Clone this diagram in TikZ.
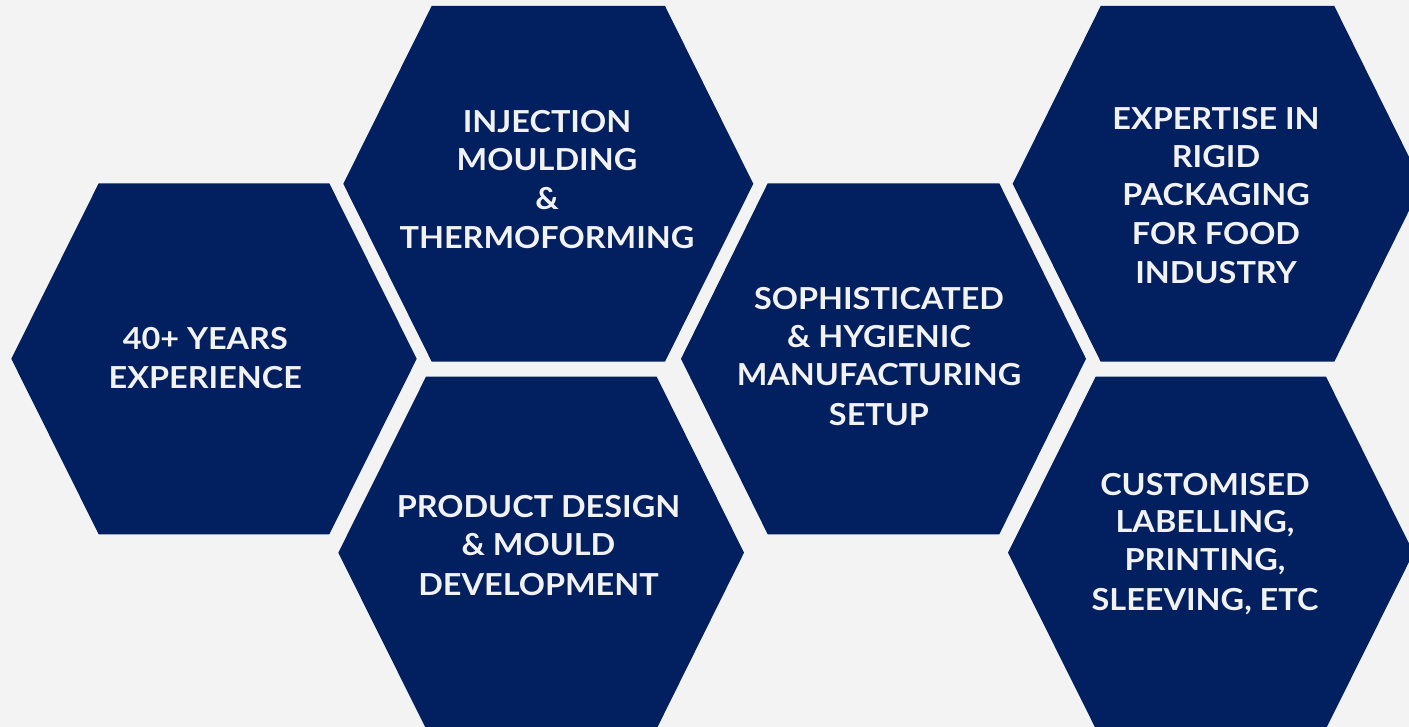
\documentclass[tikz,border=0pt]{standalone}
\usepackage{fontspec}
\setmainfont{Lato}[FakeStretch=1.07]
\definecolor{navy}{HTML}{022060}
\definecolor{bgc}{HTML}{F3F3F3}
\definecolor{txt}{HTML}{F2F2F2}
\begin{document}
\begin{tikzpicture}[x=1pt,y=-1pt,
  hexa/.style={fill=navy},
  lbl/.style={text=txt, font=\bfseries\fontsize{30.3}{36}\selectfont, anchor=base, inner sep=0pt}]
\useasboundingbox (0,0) rectangle (1409,727);
\clip (0,0) rectangle (1409,727);
\fill[bgc] (0,0) rectangle (1409,727);
% hexagons
\fill[hexa] (11.3,358.8) -- (98.7,183.3) -- (329.3,183.3) -- (416.7,358.8) -- (329.3,534.3) -- (98.7,534.3) -- cycle;
\fill[hexa] (343.3,183.8) -- (431.7,6) -- (665,6) -- (753.3,183.8) -- (665,361.7) -- (431.7,361.7) -- cycle;
\fill[hexa] (338.3,552.7) -- (426,376.7) -- (656.7,376.7) -- (744,552.7) -- (656.7,728.7) -- (426,728.7) -- cycle;
\fill[hexa] (681,358.8) -- (767.7,183.3) -- (999.3,183.3) -- (1086,358.8) -- (999.3,534.3) -- (767.7,534.3) -- cycle;
\fill[hexa] (1012.7,183.8) -- (1100.7,6) -- (1334.3,6) -- (1422.3,183.8) -- (1334.3,361.7) -- (1100.7,361.7) -- cycle;
\fill[hexa] (1008,552.7) -- (1095.7,376.7) -- (1326,376.7) -- (1413.6,552.7) -- (1326,728.7) -- (1095.7,728.7) -- cycle;
% labels
\node[lbl] (a1) at (205.3,350) {40+ YEARS};
\node[lbl] (a2) at (205.3,388.3) {EXPERIENCE};
\node[lbl] (b1) at (547,132.7) {INJECTION};
\node[lbl] (b2) at (547,171) {MOULDING};
\node[lbl] (b3) at (547,209.3) {\&};
\node[lbl] (b4) at (547,248.3) {THERMOFORMING};
\node[lbl] (c1) at (538.5,517.3) {PRODUCT DESIGN};
\node[lbl] (c2) at (538.5,555.7) {\& MOULD};
\node[lbl] (c3) at (538.5,595) {DEVELOPMENT};
\node[lbl] (d1) at (879,309.3) {SOPHISTICATED};
\node[lbl] (d2) at (879,347.3) {\& HYGIENIC};
\node[lbl] (d3) at (879,386) {MANUFACTURING};
\node[lbl] (d4) at (879,425) {SETUP};
\node[lbl] (e1) at (1216,130) {EXPERTISE IN};
\node[lbl] (e2) at (1216,167.7) {RIGID};
\node[lbl] (e3) at (1216,206) {PACKAGING};
\node[lbl] (e4) at (1216,245) {FOR FOOD};
\node[lbl] (e5) at (1216,283.3) {INDUSTRY};
\node[lbl] (f1) at (1205,495) {CUSTOMISED};
\node[lbl] (f2) at (1205,532.7) {LABELLING,};
\node[lbl] (f3) at (1205,570.7) {PRINTING,};
\node[lbl] (f4) at (1205,610) {SLEEVING, ETC};
\end{tikzpicture}
\end{document}
